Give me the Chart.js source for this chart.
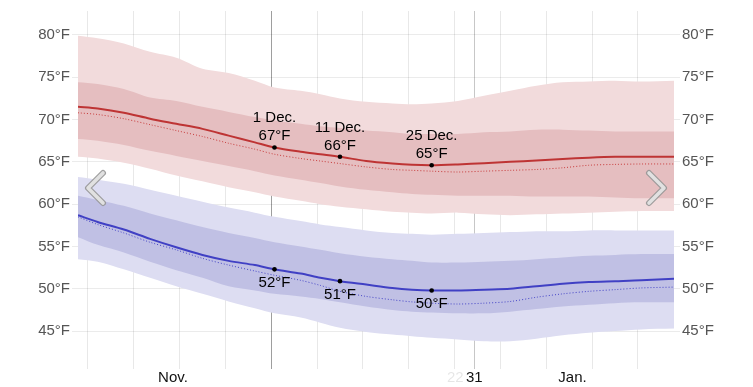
<!DOCTYPE html>
<html>
<head>
<meta charset="utf-8">
<script src="https://cdn.jsdelivr.net/npm/chart.js@4/dist/chart.umd.min.js"></script>
<style>
html,body{margin:0;padding:0;background:#fff;}
#wrap{position:relative;width:753px;height:387px;}
</style>
</head>
<body>
<div id="wrap"><canvas id="c" width="753" height="387"></canvas></div>
<script>
// Day index counted from 1 Nov 00:00 (x.5 = noon of that day)
const days = [0.5,3.5,7.5,11.5,15.5,19.5,23.5,27.5,30.5,34.5,37.5,40.5,44.5,48.5,51.5,54.5,58.5,62.5,66.5,70.5,74.5,78.5,82.5,86.5,91.5];

const highAvg      = [71.5,71.3,70.8,70.1,69.5,68.9,68.1,67.3,66.7,66.2,65.9,65.6,65.1,64.8,64.65,64.6,64.7,64.85,65.0,65.15,65.35,65.5,65.6,65.6,65.6];
const highDotted   = [70.8,70.6,70.1,69.4,68.7,68.0,67.2,66.5,65.9,65.4,65.1,64.8,64.4,64.1,64.0,63.9,63.8,63.9,64.0,64.1,64.3,64.6,64.7,64.75,64.75];
const highOuterTop = [79.9,79.6,79.0,78.0,77.3,76.0,75.5,74.6,73.8,73.4,73.0,72.5,72.1,71.9,71.8,71.9,72.2,72.8,73.4,74.0,74.4,74.5,74.6,74.5,74.6];
const highInnerTop = [74.4,74.2,73.6,72.6,72.2,71.5,70.9,70.3,69.9,69.5,69.2,69.0,68.7,68.5,68.3,68.3,68.3,68.5,68.6,68.8,68.8,68.7,68.6,68.6,68.6];
const highInnerBot = [67.7,67.5,67.0,66.3,65.7,65.1,64.5,63.9,63.4,62.9,62.5,62.1,61.7,61.4,61.2,61.1,61.0,61.0,61.0,60.9,60.9,60.9,60.8,60.7,60.7];
const highOuterBot = [65.6,65.4,64.9,64.2,63.4,62.7,62.0,61.4,60.9,60.4,60.0,59.7,59.4,59.1,59.0,58.9,59.0,58.8,58.7,58.8,58.9,59.0,59.1,59.2,59.2];

const lowAvg       = [58.7,57.9,57.0,55.9,54.9,54.0,53.3,52.8,52.3,51.8,51.3,50.9,50.5,50.1,49.9,49.8,49.8,49.9,50.0,50.3,50.6,50.8,50.9,51.0,51.2];
const lowDotted    = [58.5,57.6,56.6,55.5,54.6,53.6,52.8,52.1,51.6,51.0,50.4,49.7,49.1,48.7,48.45,48.3,48.2,48.3,48.5,49.0,49.4,49.7,49.9,50.1,50.2];
const lowOuterTop  = [63.2,62.9,62.4,61.7,61.0,60.3,59.6,59.0,58.5,58.0,57.6,57.3,56.9,56.6,56.5,56.4,56.5,56.6,56.7,56.8,56.8,56.9,56.9,56.9,56.9];
const lowInnerTop  = [61.0,60.5,59.8,58.9,58.1,57.3,56.6,56.0,55.5,55.0,54.6,54.2,53.8,53.5,53.3,53.1,53.1,53.2,53.3,53.5,53.7,53.9,54.0,54.1,54.1];
const lowInnerBot  = [56.1,55.2,54.3,53.2,52.2,51.3,50.3,49.8,49.4,49.1,48.8,48.4,47.9,47.5,47.3,47.2,47.1,47.1,47.3,47.6,47.9,48.1,48.3,48.4,48.4];
const lowOuterBot  = [53.5,53.2,52.3,51.3,50.3,49.4,48.5,47.7,47.1,46.6,46.0,45.4,44.9,44.6,44.4,44.2,44.0,43.8,43.8,44.1,44.5,44.8,45.0,45.2,45.3];

const yTicks = [45,50,55,60,65,70,75,80];
const weekGridDays = [2,9,16,23,30,37,44,51,58,65,72,79,86];
const xLabels = [{day:15, text:'Nov.'},{day:58.1, text:'22'},{day:61, text:'31'},{day:76, text:'Jan.'}];
const annIdx = [8, 11, 15];
const annText = ['1 Dec.', '11 Dec.', '25 Dec.'];

const FONT = "'Liberation Sans', Arial, Helvetica, sans-serif";

function pts(arr){ return arr.map((v,i)=>({x:days[i], y:v})); }
function band(arr, color, fill, order){
  return {data:pts(arr), borderWidth:0, pointRadius:0, backgroundColor:color, fill:fill, tension:0.3, order:order};
}

const datasets = [
  band(highInnerTop,'rgb(229,190,192)','+1',2),
  band(highInnerBot,'rgba(0,0,0,0)',false,2),
  band(lowInnerTop,'rgb(192,192,228)','+1',2),
  band(lowInnerBot,'rgba(0,0,0,0)',false,2),
  band(highOuterTop,'rgb(242,219,220)','+1',3),
  band(highOuterBot,'rgba(0,0,0,0)',false,3),
  band(lowOuterTop,'rgb(221,221,242)','+1',3),
  band(lowOuterBot,'rgba(0,0,0,0)',false,3),
  {data:pts(highDotted), borderColor:'rgb(200,60,60)', borderWidth:1, borderDash:[1,2], pointRadius:0, fill:false, tension:0.3, order:1},
  {data:pts(lowDotted), borderColor:'rgb(70,70,200)', borderWidth:1, borderDash:[1,2], pointRadius:0, fill:false, tension:0.3, order:1},
  {data:pts(highAvg), borderColor:'rgb(190,52,52)', borderWidth:2, pointRadius:0, fill:false, tension:0.3, order:0},
  {data:pts(lowAvg), borderColor:'rgb(64,64,196)', borderWidth:2, pointRadius:0, fill:false, tension:0.3, order:0}
];

const overlay = {
  id:'overlay',
  afterDraw(chart){
    const ctx = chart.ctx, xs = chart.scales.x, ys = chart.scales.y;
    ctx.save();
    ctx.font = '15px ' + FONT;
    ctx.textAlign = 'center';
    annIdx.forEach((i,k)=>{
      const px = xs.getPixelForValue(days[i]);
      const hy = ys.getPixelForValue(highAvg[i]);
      const ly = ys.getPixelForValue(lowAvg[i]);
      ctx.fillStyle = '#000';
      ctx.textBaseline = 'alphabetic';
      ctx.fillText(annText[k], px, hy - 25);
      ctx.fillText(Math.round(highAvg[i]) + '°F', px, hy - 7);
      ctx.fillText(Math.round(lowAvg[i]) + '°F', px, ly + 18);
      ctx.beginPath(); ctx.arc(px, hy, 2.3, 0, Math.PI*2); ctx.fill();
      ctx.beginPath(); ctx.arc(px, ly, 2.3, 0, Math.PI*2); ctx.fill();
    });
    // navigation chevrons
    const chev = (p)=>{
      ctx.lineCap='round'; ctx.lineJoin='round';
      ctx.beginPath(); ctx.moveTo(p[0],p[1]); ctx.lineTo(p[2],p[3]); ctx.lineTo(p[4],p[5]);
      ctx.strokeStyle='rgba(150,150,150,0.9)'; ctx.lineWidth=6; ctx.stroke();
      ctx.strokeStyle='rgba(225,225,225,1)'; ctx.lineWidth=3.6; ctx.stroke();
    };
    chev([103,173, 88,188, 103,203]);
    chev([649,173, 664,188, 649,203]);
    ctx.restore();
  }
};

new Chart(document.getElementById('c'), {
  type:'line',
  data:{datasets},
  options:{
    responsive:false, animation:false,
    layout:{padding:{top:10,left:0,right:0,bottom:0}},
    plugins:{legend:{display:false}, tooltip:{enabled:false}},
    scales:{
      x:{
        type:'linear', min:0.5, max:91.5, z:1,
        border:{display:false},
        afterBuildTicks(a){
          const vals = new Set([...weekGridDays, 61, ...xLabels.map(l=>l.day)]);
          a.ticks = [...vals].sort((p,q)=>p-q).map(v=>({value:v}));
        },
        afterFit(a){ a.height = 18; },
        grid:{
          drawTicks:false,
          color(ctx){
            const v = ctx.tick && ctx.tick.value;
            if (v === 30) return 'rgba(0,0,0,0.38)';
            if (v === 61) return 'rgba(0,0,0,0.22)';
            if (weekGridDays.includes(v)) return 'rgba(0,0,0,0.09)';
            return 'rgba(0,0,0,0)';
          },
          lineWidth:1
        },
        ticks:{
          autoSkip:false, maxRotation:0, padding:0,
          font:{family:FONT, size:15},
          color(ctx){ return (ctx.tick && ctx.tick.value === 58.1) ? 'rgba(0,0,0,0.1)' : '#111'; },
          callback(v){ const l = xLabels.find(o=>o.day===v); return l ? l.text : ''; }
        }
      },
      y:{
        position:'left', min:40.52, max:82.83, z:1,
        border:{display:false},
        afterBuildTicks(a){ a.ticks = yTicks.map(v=>({value:v})); },
        afterFit(a){ a.width = 78; },
        grid:{color:'rgba(0,0,0,0.08)', tickLength:6, drawTicks:true},
        ticks:{padding:2, font:{family:FONT, size:15}, color:'#555', callback(v){ return v + '°F'; }}
      },
      y2:{
        position:'right', min:40.52, max:82.83, z:1,
        border:{display:false},
        afterBuildTicks(a){ a.ticks = yTicks.map(v=>({value:v})); },
        afterFit(a){ a.width = 79; },
        grid:{color:'rgba(0,0,0,0.08)', tickLength:6, drawTicks:true, drawOnChartArea:false},
        ticks:{padding:2, font:{family:FONT, size:15}, color:'#555', callback(v){ return v + '°F'; }}
      }
    }
  },
  plugins:[overlay]
});
</script>
</body>
</html>
